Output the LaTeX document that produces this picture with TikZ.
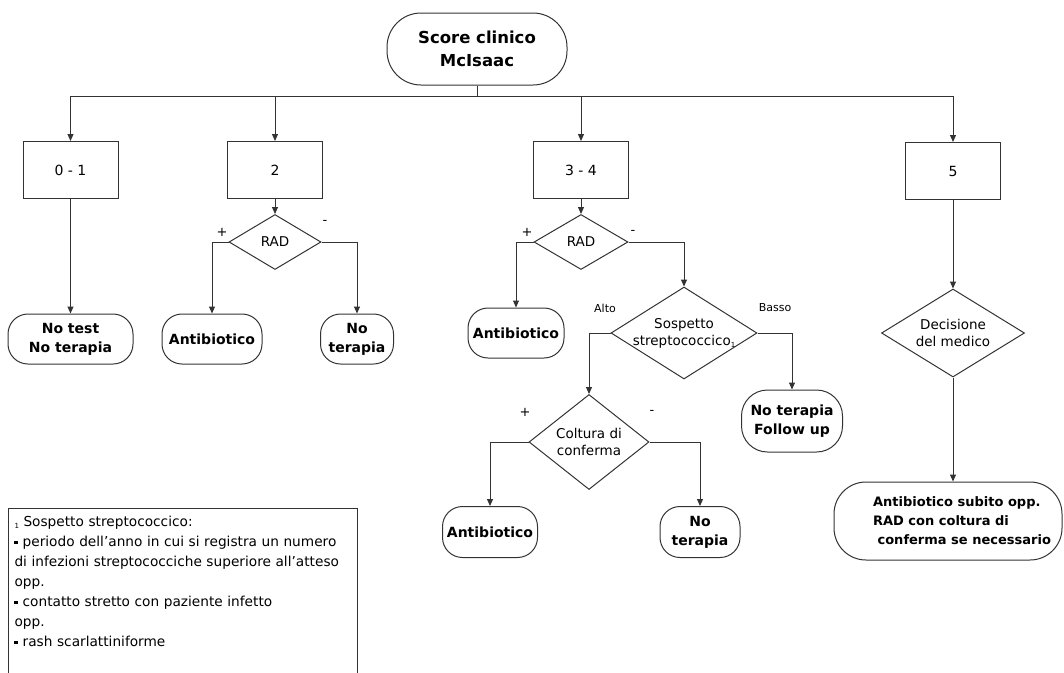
\documentclass[tikz,border=0pt]{standalone}
\usepackage{fontspec}
\setmainfont{DejaVu Sans}
\usetikzlibrary{shapes.geometric,arrows.meta}

\tikzset{
  term/.style={draw, rectangle, rounded corners=20pt, inner sep=0pt, align=center,
    font=\fontsize{14}{19}\selectfont\bfseries},
  box/.style={draw, rectangle, minimum width=95pt, minimum height=57pt, inner sep=0pt,
    font=\fontsize{14}{16}\selectfont},
  dec/.style={draw, diamond, inner sep=0pt},
  dectext/.style={align=center, font=\fontsize{13.5}{17}\selectfont},
  sign/.style={font=\fontsize{13}{13}\selectfont},
  level/.style={font=\fontsize{11}{11}\selectfont},
}
\newcommand{\refone}{\raisebox{-0.35ex}{\fontsize{7}{7}\selectfont 1}}
\newcommand{\sqbullet}{\raisebox{0.25ex}{\rule{3.6pt}{3.6pt}}}

\begin{document}
\begin{tikzpicture}[x=1pt, y=-1pt, line width=1pt, draw=black!80,
    >={Triangle[length=7pt,width=6pt]}]
  \useasboundingbox (0,0) rectangle (1064,672);
  \path
    (477,49) node[term, minimum width=180pt, minimum height=72pt, rounded corners=34pt,
      font=\fontsize{16.5}{23}\selectfont\bfseries] (score) {Score clinico\\McIsaac}
    (70.5,170) node[box] (b01) {0 - 1}
    (275,170) node[box] (b2) {2}
    (581,170) node[box] (b34) {3 - 4}
    (953,171) node[box] (b5) {5}
    (275,242) node[dec, minimum width=92pt, minimum height=55pt,
      label={[dectext]center:RAD}] (rad2) {}
    (581,242) node[dec, minimum width=94pt, minimum height=55pt,
      label={[dectext]center:RAD}] (rad34) {}
    (684,333) node[dec, minimum width=146pt, minimum height=92pt,
      label={[dectext]center:Sospetto\\streptococcico\refone}] (sosp) {}
    (589,442) node[dec, minimum width=120pt, minimum height=95pt,
      label={[dectext]center:Coltura di\\conferma}] (colt) {}
    (953,333) node[dec, minimum width=143pt, minimum height=88pt,
      label={[dectext]center:Decisione\\del medico}] (dec5) {}
    (70.5,339) node[term, minimum width=125pt, minimum height=50pt] (nt01) {No test\\No terapia}
    (212,339) node[term, minimum width=100pt, minimum height=50pt] (ab2) {Antibiotico}
    (357,339) node[term, minimum width=73pt, minimum height=50pt] (nt2) {No\\terapia}
    (516,333) node[term, minimum width=96pt, minimum height=50pt] (ab34) {Antibiotico}
    (792,421) node[term, minimum width=101pt, minimum height=62pt, rounded corners=26pt] (ntfu) {No terapia\\Follow up}
    (490,532) node[term, minimum width=95pt, minimum height=51pt] (ab34b) {Antibiotico}
    (700,532) node[term, minimum width=80pt, minimum height=51pt] (nt34) {No\\terapia}
    (948,521) node[term, minimum width=228pt, minimum height=78pt, rounded corners=32pt,
      label={[align=left, xshift=14pt, font=\fontsize{13}{19}\selectfont\bfseries]center:%
        Antibiotico subito opp.\\RAD con coltura di\\\ conferma se necessario}] (fin) {};
  % segni e livelli
  \path
    (222,232) node[sign] (p2) {+}
    (325,222) node[sign] (m2) {-}
    (527,232) node[sign] (p34) {+}
    (633,232) node[sign] (m34) {-}
    (605,308) node[level] (alto) {Alto}
    (775,308) node[level] (basso) {Basso}
    (525,412) node[sign] (pc) {+}
    (652,412) node[sign] (mc) {-};
  % nota
  \node[draw, anchor=north west, minimum width=349pt, minimum height=170pt,
    text width=337pt, inner xsep=6pt, inner ysep=6pt, align=left,
    font=\fontsize{13.7}{20}\selectfont] (nota) at (8,508)
    {\refone\ Sospetto streptococcico:\\
     \sqbullet\ periodo dell’anno in cui si registra un numero\\
     di infezioni streptococciche superiore all’atteso\\
     opp.\\
     \sqbullet\ contatto stretto con paziente infetto\\
     opp.\\
     \sqbullet\ rash scarlattiniforme\\
     \rule{0pt}{24pt}};
  \coordinate (join) at (477,96);
  \draw (score) -- (join);
  \begin{scope}[->]
    \draw (join) -| (b01);
    \draw (join) -| (b2);
    \draw (join) -| (b34);
    \draw (join) -| (b5);
    \draw (b01) -- (nt01);
    \draw (b2) -- (rad2);
    \draw (rad2.west) -| (ab2);
    \draw (rad2.east) -| (nt2);
    \draw (b34) -- (rad34);
    \draw (rad34.west) -| (ab34);
    \draw (rad34.east) -| (sosp);
    \draw (sosp.west) -| (colt);
    \draw (sosp.east) -| (ntfu);
    \draw (colt.west) -| (ab34b);
    \draw (colt.east) -| (nt34);
    \draw (b5) -- (dec5);
    \draw (dec5) -- (dec5 |- fin.north);
  \end{scope}
\end{tikzpicture}
\end{document}
